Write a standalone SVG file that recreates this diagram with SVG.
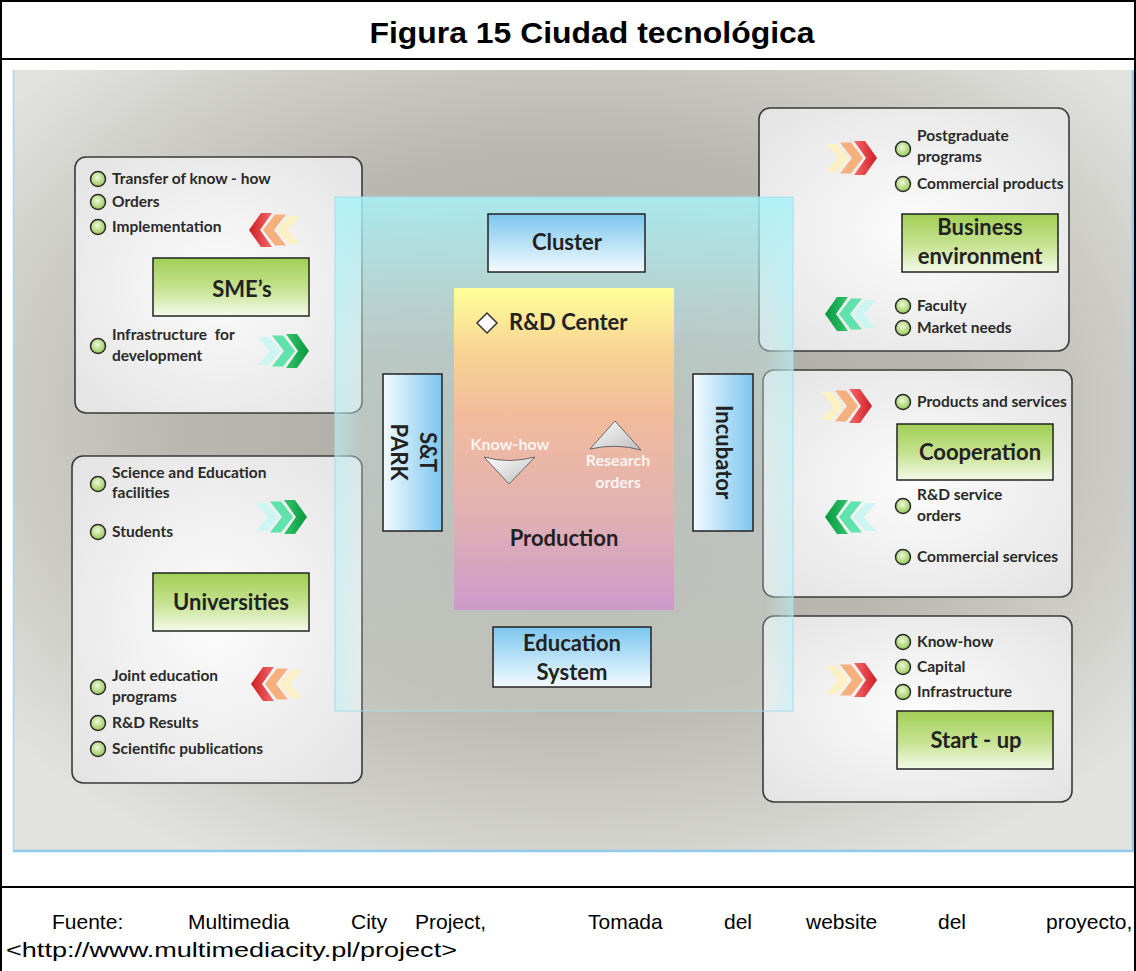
<svg xmlns="http://www.w3.org/2000/svg" width="1136" height="971" viewBox="0 0 1136 971">
<defs>
<style>
.frame{stroke:#000;stroke-width:2;fill:none}
.panel{fill:url(#panelG);stroke:#3a3a3a;stroke-width:1.6}
.lbl{font-family:Lato,"Open Sans",sans-serif;font-weight:bold;font-size:15.5px;fill:#2a2a2a}
.big{font-family:Lato,"Open Sans",sans-serif;font-weight:bold;font-size:22px;fill:#222;text-anchor:middle}
.start{text-anchor:start}
.green{fill:url(#greenG);stroke:#222;stroke-width:1.5}
.blueV{fill:url(#blueV);stroke:#222;stroke-width:1.5}
.blueH{fill:url(#blueH);stroke:#222;stroke-width:1.5}
.dot{fill:url(#dotG);stroke:#2a2a2a;stroke-width:1.5}
.wt{font-family:Lato,"Open Sans",sans-serif;font-weight:bold;font-size:16px;fill:#fff;text-anchor:middle;opacity:0.85}
.cap{font-family:"Liberation Sans",Arial,sans-serif;font-size:21px;fill:#000}
</style>
<radialGradient id="bgG" cx="0.5" cy="0.45" r="0.65">
<stop offset="0" stop-color="#a9a89f"/>
<stop offset="0.55" stop-color="#b9b8b1"/>
<stop offset="1" stop-color="#e2e2df"/>
</radialGradient>
<radialGradient id="panelG" cx="0.5" cy="0.5" r="0.7">
<stop offset="0" stop-color="#fcfcfc"/>
<stop offset="1" stop-color="#e3e3e3"/>
</radialGradient>
<linearGradient id="greenG" x1="0" y1="0" x2="0" y2="1">
<stop offset="0" stop-color="#a0cf55"/>
<stop offset="0.55" stop-color="#c8e394"/>
<stop offset="1" stop-color="#f4faea"/>
</linearGradient>
<linearGradient id="blueV" x1="0" y1="0" x2="0" y2="1">
<stop offset="0" stop-color="#7cc6ee"/>
<stop offset="1" stop-color="#f4fbff"/>
</linearGradient>
<linearGradient id="blueH" x1="0" y1="0" x2="1" y2="0">
<stop offset="0" stop-color="#f4fbff"/>
<stop offset="1" stop-color="#7cc6ee"/>
</linearGradient>
<radialGradient id="dotG" cx="0.45" cy="0.4" r="0.6">
<stop offset="0" stop-color="#eef8dc"/>
<stop offset="1" stop-color="#96c851"/>
</radialGradient>
<linearGradient id="prodG" x1="0" y1="0" x2="0" y2="1">
<stop offset="0" stop-color="#ffff9a"/>
<stop offset="0.2" stop-color="#f8d393"/>
<stop offset="0.4" stop-color="#f2bb9d"/>
<stop offset="0.7" stop-color="#e2b1b2"/>
<stop offset="1" stop-color="#cd9bcb"/>
</linearGradient>
<linearGradient id="ovG" x1="0" y1="0" x2="0" y2="1">
<stop offset="0" stop-color="#a6f2f8" stop-opacity="0.85"/>
<stop offset="0.3" stop-color="#c5e6e6" stop-opacity="0.45"/>
<stop offset="1" stop-color="#e8eeee" stop-opacity="0.15"/>
</linearGradient>
<linearGradient id="ovH" x1="0" y1="0" x2="1" y2="0">
<stop offset="0" stop-color="#b5f3f8" stop-opacity="0.5"/>
<stop offset="0.06" stop-color="#b5f3f8" stop-opacity="0"/>
<stop offset="0.94" stop-color="#b5f3f8" stop-opacity="0"/>
<stop offset="1" stop-color="#b5f3f8" stop-opacity="0.5"/>
</linearGradient>
<linearGradient id="triG" x1="0" y1="0" x2="1" y2="1">
<stop offset="0" stop-color="#ffffff"/>
<stop offset="1" stop-color="#bdbdbd"/>
</linearGradient>
<linearGradient id="redF" x1="0" y1="0" x2="1" y2="0">
<stop offset="0" stop-color="#f56a6c"/>
<stop offset="1" stop-color="#cf1c22"/>
</linearGradient>
<linearGradient id="greenF" x1="0" y1="0" x2="1" y2="0">
<stop offset="0" stop-color="#33c46c"/>
<stop offset="1" stop-color="#08993f"/>
</linearGradient>
<path id="chev" d="M0,0 L11,0 L23,17 L11,34 L0,34 L12,17 Z"/>
<g id="chevR">
<use href="#chev" x="0" y="0" fill="#fbf1c4" transform="translate(0,3) scale(1,0.82)"/>
<use href="#chev" x="14" y="0" fill="#f5b07e" transform="translate(0,1.5) scale(1,0.91)"/>
<use href="#chev" x="28" y="0" fill="url(#redF)"/>
</g>
<g id="chevG">
<use href="#chev" x="0" y="0" fill="#cdf6f2" transform="translate(0,3) scale(1,0.82)"/>
<use href="#chev" x="14" y="0" fill="#5fe2ac" transform="translate(0,1.5) scale(1,0.91)"/>
<use href="#chev" x="28" y="0" fill="url(#greenF)"/>
</g>
</defs>

<rect x="0" y="0" width="1136" height="971" fill="#fff"/>

<g id="title">
<text x="592" y="43" font-family="'Liberation Sans',Arial,sans-serif" font-weight="bold" font-size="30" text-anchor="middle" textLength="445" lengthAdjust="spacingAndGlyphs">Figura 15 Ciudad tecnológica</text>
</g>

<g id="background">
<rect x="13" y="70" width="1122" height="781" fill="url(#bgG)"/>
<line x1="13" y1="851" x2="1135" y2="851" stroke="#8fcbea" stroke-width="2.5"/>
<line x1="13.5" y1="70" x2="13.5" y2="851" stroke="#a9d6ec" stroke-width="1.5"/>
<line x1="1133" y1="70" x2="1133" y2="851" stroke="#8fcbea" stroke-width="2.5"/>
</g>

<g id="sme">
<rect class="panel" x="75" y="157" width="287" height="256" rx="11"/>
<circle class="dot" cx="98" cy="179" r="7.5"/><text class="lbl" x="112" y="184">Transfer of know - how</text>
<circle class="dot" cx="98" cy="202" r="7.5"/><text class="lbl" x="112" y="207">Orders</text>
<circle class="dot" cx="98" cy="227" r="7.5"/><text class="lbl" x="112" y="232">Implementation</text>
<circle class="dot" cx="98" cy="346" r="7.5"/><text class="lbl" x="112" y="340" xml:space="preserve">Infrastructure  for</text><text class="lbl" x="112" y="361">development</text>
<use href="#chevR" transform="translate(300,213) scale(-1,1)"/>
<use href="#chevG" transform="translate(258,334)"/>
<rect class="green" x="153" y="258" width="156" height="58"/>
<text class="big" x="242" y="297">SME’s</text>
</g>

<g id="universities">
<rect class="panel" x="72" y="456" width="290" height="327" rx="11"/>
<circle class="dot" cx="98" cy="484" r="7.5"/><text class="lbl" x="112" y="478">Science and Education</text><text class="lbl" x="112" y="498">facilities</text>
<circle class="dot" cx="98" cy="532" r="7.5"/><text class="lbl" x="112" y="537">Students</text>
<circle class="dot" cx="98" cy="687" r="7.5"/><text class="lbl" x="112" y="681">Joint education</text><text class="lbl" x="112" y="702">programs</text>
<circle class="dot" cx="98" cy="723" r="7.5"/><text class="lbl" x="112" y="728">R&amp;D Results</text>
<circle class="dot" cx="98" cy="749" r="7.5"/><text class="lbl" x="112" y="754">Scientific publications</text>
<use href="#chevG" transform="translate(256,500)"/>
<use href="#chevR" transform="translate(302,667) scale(-1,1)"/>
<rect class="green" x="153" y="573" width="156" height="58"/>
<text class="big" x="231" y="610">Universities</text>
</g>

<g id="business">
<rect class="panel" x="759" y="108" width="310" height="243" rx="11"/>
<circle class="dot" cx="903" cy="149" r="7.5"/><text class="lbl" x="917" y="141">Postgraduate</text><text class="lbl" x="917" y="162">programs</text>
<circle class="dot" cx="903" cy="184" r="7.5"/><text class="lbl" x="917" y="189">Commercial products</text>
<circle class="dot" cx="903" cy="306" r="7.5"/><text class="lbl" x="917" y="311">Faculty</text>
<circle class="dot" cx="903" cy="328" r="7.5"/><text class="lbl" x="917" y="333">Market needs</text>
<use href="#chevR" transform="translate(826,141)"/>
<use href="#chevG" transform="translate(876,297) scale(-1,1)"/>
<rect class="green" x="902" y="214" width="156" height="58"/>
<text class="big" x="980" y="235">Business</text>
<text class="big" x="980" y="264">environment</text>
</g>

<g id="cooperation">
<rect class="panel" x="763" y="370" width="309" height="227" rx="11"/>
<circle class="dot" cx="903" cy="402" r="7.5"/><text class="lbl" x="917" y="407">Products and services</text>
<circle class="dot" cx="903" cy="506" r="7.5"/><text class="lbl" x="917" y="500">R&amp;D service</text><text class="lbl" x="917" y="521">orders</text>
<circle class="dot" cx="903" cy="557" r="7.5"/><text class="lbl" x="917" y="562">Commercial services</text>
<use href="#chevR" transform="translate(821,389)"/>
<use href="#chevG" transform="translate(876,500) scale(-1,1)"/>
<rect class="green" x="897" y="424" width="156" height="56"/>
<text class="big" x="980" y="460">Cooperation</text>
</g>

<g id="startup">
<rect class="panel" x="763" y="616" width="309" height="186" rx="11"/>
<circle class="dot" cx="903" cy="642" r="7.5"/><text class="lbl" x="917" y="647">Know-how</text>
<circle class="dot" cx="903" cy="667" r="7.5"/><text class="lbl" x="917" y="672">Capital</text>
<circle class="dot" cx="903" cy="692" r="7.5"/><text class="lbl" x="917" y="697">Infrastructure</text>
<use href="#chevR" transform="translate(826,663)"/>
<rect class="green" x="897" y="711" width="156" height="58"/>
<text class="big" x="976" y="748">Start - up</text>
</g>

<g id="overlay">
<rect x="335" y="197" width="458" height="514" fill="url(#ovG)"/>
<rect x="335" y="197" width="458" height="514" fill="url(#ovH)" stroke="#a6dcea" stroke-width="1"/>
</g>

<g id="cluster">
<rect class="blueV" x="488" y="214" width="157" height="58"/>
<text class="big" x="567" y="250">Cluster</text>
</g>

<g id="rdcenter">
<rect x="454" y="288" width="220" height="322" fill="url(#prodG)"/>
<path d="M487,313 L497,323 L487,333 L477,323 Z" fill="#fff" stroke="#333" stroke-width="1.5"/>
<text class="big start" x="509" y="330">R&amp;D Center</text>
<text class="wt" x="510" y="450">Know-how</text>
<path d="M484,457 Q509,464 535,457 L509,484 Z" fill="url(#triG)" stroke="#666" stroke-width="1"/>
<path d="M590,449 Q616,443 641,450 L615,421 Z" fill="url(#triG)" stroke="#666" stroke-width="1"/>
<text class="wt" x="618" y="466">Research</text>
<text class="wt" x="618" y="488">orders</text>
<text class="big" x="564" y="546">Production</text>
</g>

<g id="stpark">
<rect class="blueH" x="383" y="374" width="59" height="157"/>
<text class="big" transform="translate(420,452) rotate(90)">S&amp;T</text>
<text class="big" transform="translate(391,452) rotate(90)">PARK</text>
</g>

<g id="incubator">
<rect class="blueH" x="693" y="374" width="60" height="157"/>
<text class="big" transform="translate(716,452) rotate(90)">Incubator</text>
</g>

<g id="education">
<rect class="blueV" x="493" y="627" width="158" height="60"/>
<text class="big" x="572" y="651">Education</text>
<text class="big" x="572" y="680">System</text>
</g>

<g id="caption">
<text class="cap" y="929"><tspan x="52">Fuente:</tspan><tspan x="188">Multimedia</tspan><tspan x="351">City</tspan><tspan x="415">Project,</tspan><tspan x="588">Tomada</tspan><tspan x="724">del</tspan><tspan x="806">website</tspan><tspan x="938">del</tspan><tspan x="1046">proyecto,</tspan></text>
<text class="cap" x="6" y="957" textLength="451" lengthAdjust="spacingAndGlyphs">&lt;http://www.multimediacity.pl/project&gt;</text>
</g>

<g id="frame">
<line class="frame" x1="1" y1="0" x2="1" y2="971"/>
<line class="frame" x1="1135" y1="0" x2="1135" y2="971"/>
<line class="frame" x1="0" y1="1" x2="1136" y2="1"/>
<line class="frame" x1="0" y1="59" x2="1136" y2="59"/>
<line class="frame" x1="0" y1="887" x2="1136" y2="887"/>
</g>
</svg>
